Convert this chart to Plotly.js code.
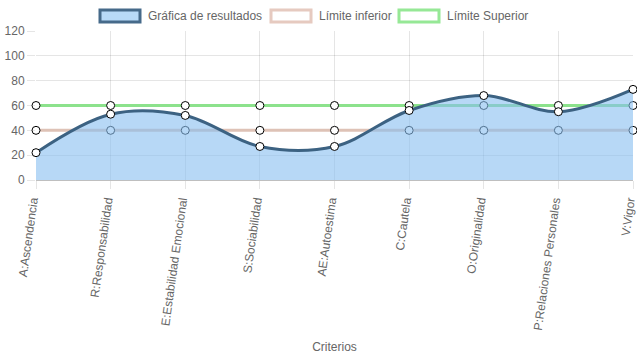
<!DOCTYPE html>
<html>
<head>
<meta charset="utf-8">
<script src="https://cdn.plot.ly/plotly-3.0.1.min.js"></script>
<style>html,body{margin:0;padding:0;background:#fff;}#chart{width:637px;height:359px;}</style>
</head>
<body>
<div id="chart"></div>
<script>
var categories = ["A:Ascendencia","R:Responsabilidad","E:Estabilidad Emocional","S:Sociabilidad","AE:Autoestima","C:Cautela","O:Originalidad","P:Relaciones Personales","V:Vigor"];
var resultados = [22, 53, 52, 27, 27, 56, 68, 55, 73];
var limiteInferior = [40, 40, 40, 40, 40, 40, 40, 40, 40];
var limiteSuperior = [60, 60, 60, 60, 60, 60, 60, 60, 60];
var seriesNames = ["Gráfica de resultados", "Límite inferior", "Límite Superior"];
var yTicks = [0, 20, 40, 60, 80, 100, 120];

var W = 637, H = 359, L = 36, R = 4, T = 31, B = 179;
function px(x){ return (x - L) / (W - L - R); }
function py(y){ return (H - B - y) / (H - T - B); }

var FONT = "Liberation Sans, Arial, sans-serif";
var marker = {size: 8, color: "#ffffff", line: {color: "#000000", width: 1}};

var traces = [
  {x: categories, y: limiteInferior, name: seriesNames[1], type: "scatter", mode: "lines+markers",
   line: {color: "rgb(222,194,182)", width: 3, shape: "spline", smoothing: 1}, marker: marker, cliponaxis: false},
  {x: categories, y: limiteSuperior, name: seriesNames[2], type: "scatter", mode: "lines+markers",
   line: {color: "rgb(140,226,140)", width: 3, shape: "spline", smoothing: 1}, marker: marker, cliponaxis: false},
  {x: categories, y: resultados, name: seriesNames[0], type: "scatter", mode: "lines+markers",
   fill: "tozeroy", fillcolor: "rgba(135,190,240,0.6)",
   line: {color: "rgb(60,98,130)", width: 3, shape: "spline", smoothing: 1}, marker: marker, cliponaxis: false}
];

var legendBoxes = [
  {x0: 100, x1: 140, fill: "rgb(184,218,248)", stroke: "rgb(70,106,138)", text: seriesNames[0], tx: 146},
  {x0: 271, x1: 311, fill: "#ffffff", stroke: "rgb(230,202,192)", text: seriesNames[1], tx: 317},
  {x0: 399, x1: 439, fill: "#ffffff", stroke: "rgb(150,232,150)", text: seriesNames[2], tx: 445}
];
var shapes = [], annotations = [];
legendBoxes.forEach(function(b){
  shapes.push({type: "rect", xref: "paper", yref: "paper", x0: px(b.x0), x1: px(b.x1), y0: py(22), y1: py(10),
    fillcolor: b.fill, line: {color: b.stroke, width: 3}, layer: "above"});
  annotations.push({xref: "paper", yref: "paper", x: px(b.tx), y: py(16), xanchor: "left", yanchor: "middle",
    text: b.text, showarrow: false, font: {family: FONT, size: 12, color: "#666"}});
});

var layout = {
  width: W, height: H,
  margin: {l: L, r: R, t: T, b: B},
  paper_bgcolor: "#fff", plot_bgcolor: "#fff",
  showlegend: false,
  font: {family: FONT, size: 12, color: "#666"},
  xaxis: {
    type: "category", range: [0, categories.length - 1],
    showgrid: true, gridcolor: "rgba(0,0,0,0.1)", gridwidth: 1,
    ticks: "outside", ticklen: 8, tickcolor: "rgba(0,0,0,0.1)",
    tickangle: -82, ticklabelshift: -4, tickfont: {family: FONT, size: 12, color: "#666"},
    showline: false, zeroline: false, automargin: false,
    title: {text: "Criterios", font: {family: FONT, size: 12, color: "#666"}, standoff: 12}
  },
  yaxis: {
    range: [0, 120], tickvals: yTicks,
    showgrid: true, gridcolor: "rgba(0,0,0,0.1)", gridwidth: 1,
    ticks: "outside", ticklen: 8, tickcolor: "rgba(0,0,0,0.1)",
    zeroline: true, zerolinecolor: "rgba(0,0,0,0.25)", zerolinewidth: 1,
    showline: false, automargin: false,
    tickfont: {family: FONT, size: 12, color: "#666"}
  },
  shapes: shapes,
  annotations: annotations
};

Plotly.newPlot("chart", traces, layout, {displayModeBar: false, staticPlot: true});
</script>
</body>
</html>
